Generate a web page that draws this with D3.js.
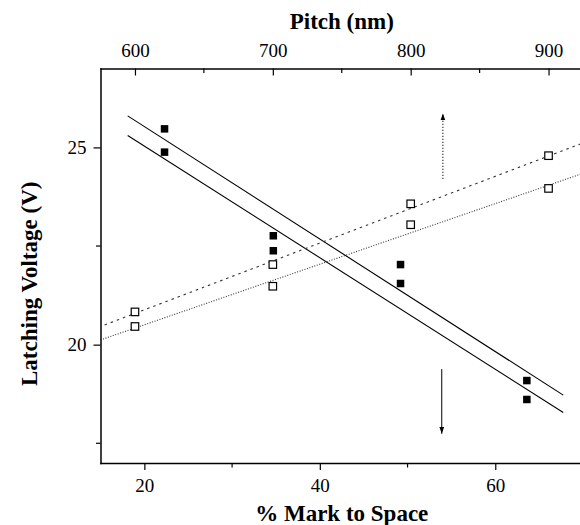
<!DOCTYPE html>
<html>
<head>
<meta charset="utf-8">
<script src="https://cdn.jsdelivr.net/npm/d3@7"></script>
<style>
  body { margin: 0; background: #fff; }
  svg { display: block; }
  .axis path, .axis line { stroke: #000; }
  .axis path { stroke-width: 1.5; }
  .axis line { stroke-width: 1.2; }
  .axis text { fill: #000; }
</style>
</head>
<body>
<div id="chart"></div>
<script>
// filled squares: latching voltage vs % mark to space (bottom axis)
const markToSpace = [22.3, 22.3, 34.7, 34.7, 49.2, 49.2, 63.6, 63.6];
const voltageMark = [25.47, 24.88, 22.76, 22.38, 22.03, 21.55, 19.09, 18.61];

// open squares: latching voltage vs pitch (top axis)
const pitch = [600, 600, 700, 700, 800, 800, 900, 900];
const voltagePitch = [20.83, 20.46, 22.03, 21.48, 23.57, 23.04, 24.79, 23.96];

// linear fits, endpoints in axis units
const markFits = [
  { x: [18.1, 67.75], v: [25.8, 18.72] },
  { x: [18.1, 67.75], v: [25.3, 18.28] },
];
const pitchFits = [
  { x: [578, 924], v: [20.5, 25.1], dash: "2.5,4" },
  { x: [575, 924], v: [20.12, 24.33], dash: "1,1.6" },
];

// direction arrows (which axis each set belongs to)
const arrowUp = { x: 54.03, v: [24.2, 25.86] };
const arrowDown = { x: 53.9, v: [19.38, 17.74] };

const markTicks = [20, 40, 60];
const markMinor = [30, 50];
const pitchTicks = [600, 700, 800, 900];
const pitchMinor = [650, 750, 850];
const voltTicks = [20, 25];
const voltMinor = [17.5, 22.5];

const font = "'Liberation Serif', 'Times New Roman', serif";
const width = 580;
const height = 525;
const margin = { top: 68.5, right: -3, bottom: 62, left: 100.5 };

const x = d3.scaleLinear().domain([15, 70]).range([margin.left, width - margin.right]);
const xTop = d3.scaleLinear().domain([575, 925]).range([margin.left, width - margin.right]);
const y = d3.scaleLinear().domain([17, 27]).range([height - margin.bottom, margin.top]);

const svg = d3.select("#chart").append("svg")
  .attr("width", width)
  .attr("height", height)
  .attr("viewBox", [0, 0, width, height])
  .attr("font-family", font);

const defs = svg.append("defs");
defs.append("marker")
  .attr("id", "head")
  .attr("viewBox", "0 0 10 10")
  .attr("refX", 10)
  .attr("refY", 5)
  .attr("markerWidth", 7)
  .attr("markerHeight", 7)
  .attr("markerUnits", "userSpaceOnUse")
  .attr("orient", "auto")
  .append("path")
  .attr("d", "M0,1.5L10,5L0,8.5Z")
  .attr("fill", "#000");

function styleAxis(g) {
  g.attr("font-family", font).attr("font-size", 19);
  g.select(".domain").attr("stroke-linecap", "square");
}

// axes
const gBottom = svg.append("g").attr("class", "axis")
  .attr("transform", `translate(0,${y.range()[0]})`)
  .call(d3.axisBottom(x).tickValues(markTicks).tickSize(7).tickSizeOuter(0).tickPadding(9))
  .call(styleAxis);
gBottom.append("g").selectAll("line").data(markMinor).join("line")
  .attr("x1", x).attr("x2", x).attr("y1", 0).attr("y2", 4.5);

const gTop = svg.append("g").attr("class", "axis")
  .attr("transform", `translate(0,${y.range()[1]})`)
  .call(d3.axisTop(xTop).tickValues(pitchTicks).tickSize(-7).tickSizeOuter(0).tickPadding(12))
  .call(styleAxis);
gTop.append("g").selectAll("line").data(pitchMinor).join("line")
  .attr("x1", xTop).attr("x2", xTop).attr("y1", 0).attr("y2", 4.5);

const gLeft = svg.append("g").attr("class", "axis")
  .attr("transform", `translate(${x.range()[0]},0)`)
  .call(d3.axisLeft(y).tickValues(voltTicks).tickSize(7).tickSizeOuter(0).tickPadding(7))
  .call(styleAxis);
gLeft.append("g").selectAll("line").data(voltMinor).join("line")
  .attr("y1", y).attr("y2", y).attr("x1", 0).attr("x2", -4.5);

// axis titles
const cx = (x.range()[0] + x.range()[1]) / 2;
const title = (sel) => sel
  .attr("font-family", font)
  .attr("font-size", 23)
  .attr("font-weight", "bold")
  .attr("text-anchor", "middle");

svg.append("text").call(title)
  .attr("x", cx).attr("y", 29)
  .text("Pitch (nm)");
svg.append("text").call(title)
  .attr("x", cx).attr("y", 521)
  .text("% Mark to Space");
svg.append("text").call(title)
  .attr("transform", `translate(37,${(y.range()[0] + y.range()[1]) / 2 + 18}) rotate(-90)`)
  .text("Latching Voltage (V)");

// fit lines
svg.append("g").selectAll("line").data(markFits).join("line")
  .attr("x1", (d) => x(d.x[0])).attr("x2", (d) => x(d.x[1]))
  .attr("y1", (d) => y(d.v[0])).attr("y2", (d) => y(d.v[1]))
  .attr("stroke", "#000")
  .attr("stroke-width", 1.1);

svg.append("g").selectAll("line").data(pitchFits).join("line")
  .attr("x1", (d) => xTop(d.x[0])).attr("x2", (d) => xTop(d.x[1]))
  .attr("y1", (d) => y(d.v[0])).attr("y2", (d) => y(d.v[1]))
  .attr("stroke", "#333")
  .attr("stroke-width", 1.1)
  .attr("stroke-dasharray", (d) => d.dash);

// arrows
svg.append("line")
  .attr("x1", x(arrowUp.x)).attr("x2", x(arrowUp.x))
  .attr("y1", y(arrowUp.v[0])).attr("y2", y(arrowUp.v[1]))
  .attr("stroke", "#000").attr("stroke-width", 1)
  .attr("stroke-dasharray", "1.2,1.8")
  .attr("marker-end", "url(#head)");
svg.append("line")
  .attr("x1", x(arrowDown.x)).attr("x2", x(arrowDown.x))
  .attr("y1", y(arrowDown.v[0])).attr("y2", y(arrowDown.v[1]))
  .attr("stroke", "#000").attr("stroke-width", 1)
  .attr("marker-end", "url(#head)");

// points
const s = 7.5;
svg.append("g").selectAll("rect").data(pitch).join("rect")
  .attr("x", (d) => xTop(d) - s / 2)
  .attr("y", (d, i) => y(voltagePitch[i]) - s / 2)
  .attr("width", s).attr("height", s)
  .attr("fill", "#fff")
  .attr("stroke", "#000")
  .attr("stroke-width", 1.2);

svg.append("g").selectAll("rect").data(markToSpace).join("rect")
  .attr("x", (d) => x(d) - s / 2)
  .attr("y", (d, i) => y(voltageMark[i]) - s / 2)
  .attr("width", s).attr("height", s)
  .attr("fill", "#000");
</script>
</body>
</html>
